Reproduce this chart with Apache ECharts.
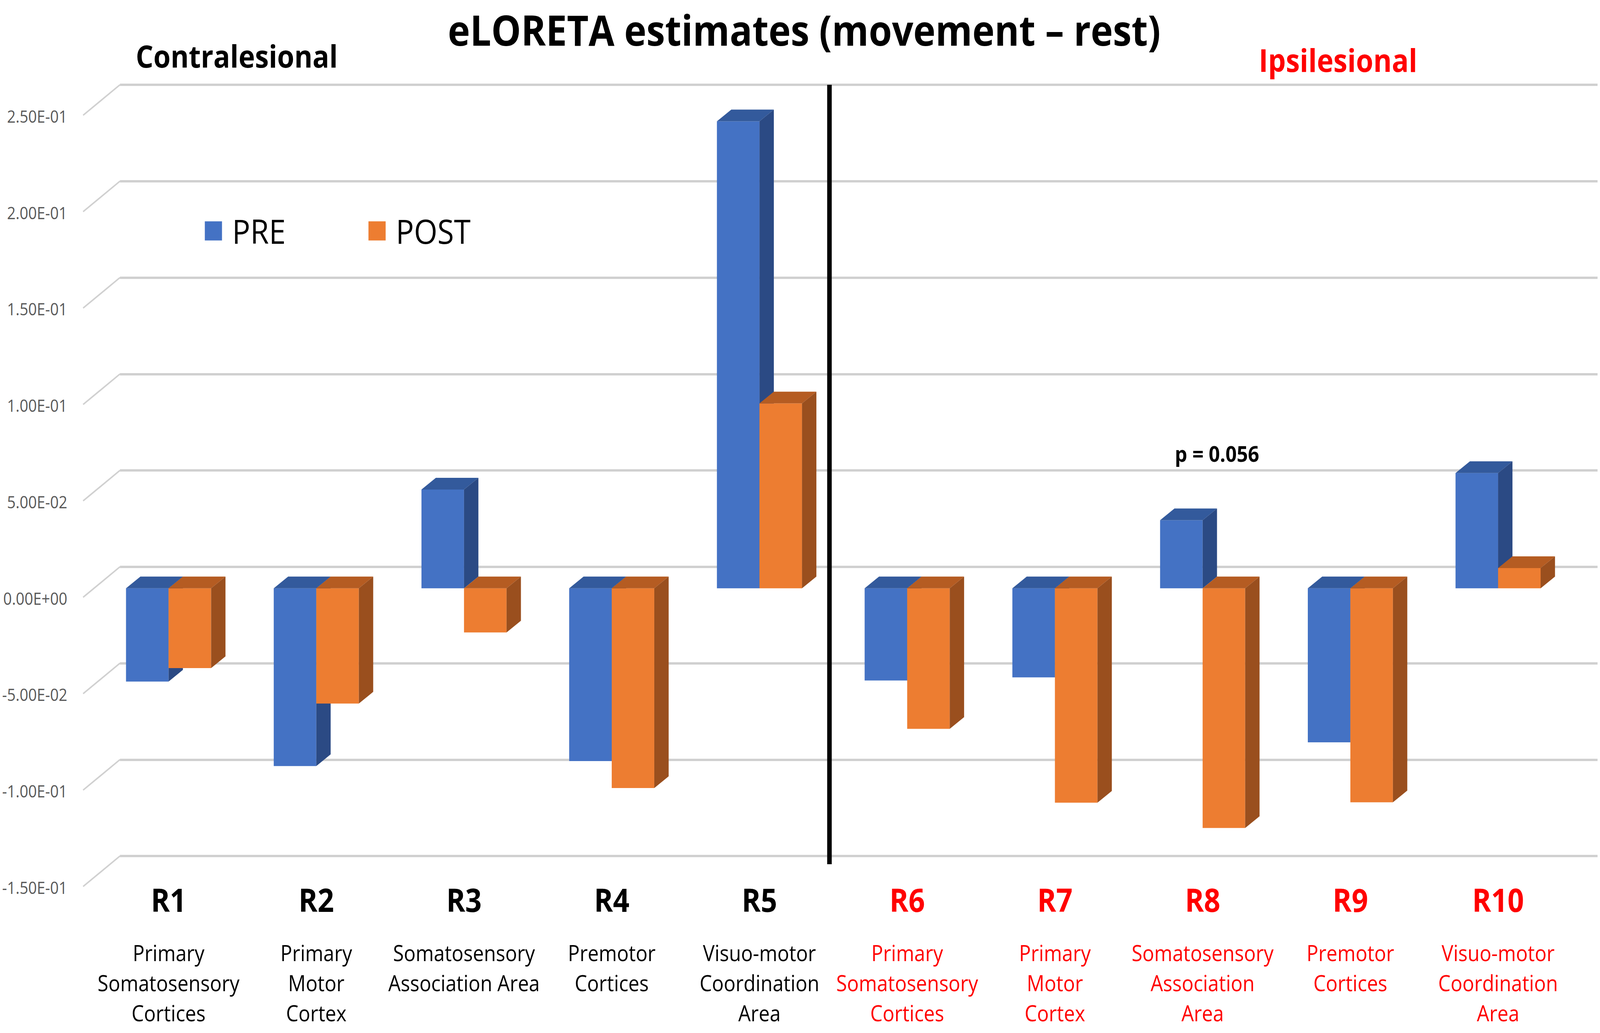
<!DOCTYPE html>
<html>
<head>
<meta charset="utf-8">
<script src="https://cdn.jsdelivr.net/npm/echarts@6/dist/echarts.min.js"></script>
<style>
html,body{margin:0;padding:0;background:#fff;overflow:hidden;width:100%;height:100%;}
#chart{position:absolute;left:0;top:0;width:4562px;height:2644px;transform-origin:0 0;}
</style>
</head>
<body>
<div id="chart"></div>
<script>
// ---- data ----
const categories = ['R1','R2','R3','R4','R5','R6','R7','R8','R9','R10'];
const regionNames = [
  'Primary\nSomatosensory\nCortices',
  'Primary\nMotor\nCortex',
  'Somatosensory\nAssociation Area',
  'Premotor\nCortices',
  'Visuo-motor\nCoordination\nArea',
  'Primary\nSomatosensory\nCortices',
  'Primary\nMotor\nCortex',
  'Somatosensory\nAssociation\nArea',
  'Premotor\nCortices',
  'Visuo-motor\nCoordination\nArea'
];
const seriesNames = ['PRE','POST'];
const preValues  = [-0.0484, -0.0922, 0.0512, -0.0896, 0.2422, -0.0478, -0.0462, 0.0353, -0.0799, 0.0598];
const postValues = [-0.0414, -0.0598, -0.0229, -0.1036, 0.0959, -0.0729, -0.1112, -0.1243, -0.1110, 0.0105];
const yTicks = [-0.15, -0.10, -0.05, 0, 0.05, 0.10, 0.15, 0.20, 0.25];

// ---- fit the 4562 x 2644 design to the actual window ----
const el = document.getElementById('chart');
const W = window.innerWidth || document.documentElement.clientWidth || 4562;
const H = window.innerHeight || document.documentElement.clientHeight || 2644;
el.style.transform = 'scale(' + (W / 4562) + ',' + (H / 2644) + ')';

// ---- style ----
const FONT = 'Open Sans';
const RED = '#FF0000';
const BAR_FRAC = 0.288;
const DX = 41, DY = 30;
const WALL_DX = 105, WALL_DY = 78;
const GRID_GREY = '#D0D0D0';
const blueFaces = {front:'#4472C4', top:'#335A9C', side:'#2B4A84'};
const orangeFaces = {front:'#ED7D31', top:'#B55C22', side:'#9A4F1E'};

function fmtSci(v){
  v = Math.round(v*1e6)/1e6;
  const s = v.toExponential(2);
  const parts = s.split('e');
  let exp = parseInt(parts[1],10);
  const sign = exp < 0 ? '-' : '+';
  exp = Math.abs(exp);
  return parts[0] + 'E' + sign + (exp < 10 ? '0' + exp : '' + exp);
}

function makeRender(side, faces){
  return function(params, api){
    const c = api.value(0), v = api.value(1);
    const p0 = api.coord([c, 0]);
    const p1 = api.coord([c, v]);
    const band = api.size([1, 0])[0];
    const bw = band * BAR_FRAC;
    const x0 = side === 0 ? p0[0] - bw : p0[0];
    const x1 = x0 + bw;
    const yTop = Math.min(p0[1], p1[1]);
    const yBot = Math.max(p0[1], p1[1]);
    return {
      type: 'group',
      children: [
        {type:'rect', shape:{x:x0, y:yTop, width:bw, height:yBot-yTop}, style:{fill:faces.front}},
        {type:'polygon', shape:{points:[[x0,yTop],[x1,yTop],[x1+DX,yTop-DY],[x0+DX,yTop-DY]]}, style:{fill:faces.top}},
        {type:'polygon', shape:{points:[[x1,yTop],[x1+DX,yTop-DY],[x1+DX,yBot-DY],[x1,yBot]]}, style:{fill:faces.side}}
      ]
    };
  };
}

function wallRender(params, api){
  const p = api.coord([0, api.value(1)]);
  return {
    type:'line',
    shape:{x1:p[0]-WALL_DX, y1:p[1]+WALL_DY, x2:p[0], y2:p[1]},
    style:{stroke:GRID_GREY, lineWidth:4}
  };
}

function catLabel(value, idx){
  const k = idx >= 5 ? 'R' : 'K';
  const lines = regionNames[idx].split('\n').map(l => '{d' + k + '|' + l + '}');
  return '{r' + k + '|' + value + '}\n' + lines.join('\n');
}

const chart = echarts.init(el, null, {renderer:'svg', width:4562, height:2644});
chart.setOption({
  backgroundColor:'#ffffff',
  animation:false,
  title:[
    {text:'eLORETA estimates (movement \u2013 rest)', left:2293, top:22, textAlign:'center', padding:0,
     textStyle:{fontSize:107, fontWeight:'bold', fontFamily:FONT, color:'#000'}},
    {text:'Contralesional', left:675, top:103, textAlign:'center', padding:0,
     textStyle:{fontSize:79, fontWeight:'bold', fontFamily:FONT, color:'#000'}},
    {text:'Ipsilesional', left:3815, top:113, textAlign:'center', padding:0,
     textStyle:{fontSize:80, fontWeight:'bold', fontFamily:FONT, color:RED}},
    {text:'p = 0.056', left:3470, top:1132, textAlign:'center', padding:0,
     textStyle:{fontSize:56, fontWeight:'bold', fontFamily:FONT, color:'#000'}}
  ],
  legend:{
    data:seriesNames, left:579, top:543, icon:'rect', itemWidth:49, itemHeight:49, itemGap:236,
    textStyle:{fontSize:86, fontFamily:FONT, color:'#000', padding:[0,0,0,24]}
  },
  grid:[
    {left:342, right:7, top:217, height:1974},
    {left:270, right:80, top:272, height:1974},
    {left:237, right:80, top:297, height:1974}
  ],
  xAxis:[
    {gridIndex:0, type:'value', min:0, max:1, show:false},
    {gridIndex:1, type:'category', data:categories,
     axisLine:{show:false}, axisTick:{show:false}, splitLine:{show:false},
     axisLabel:{interval:0, margin:-41, formatter:catLabel,
       rich:{
         rK:{fontSize:82, fontWeight:'bold', fontFamily:FONT, color:'#000', lineHeight:195, align:'center'},
         rR:{fontSize:82, fontWeight:'bold', fontFamily:FONT, color:RED, lineHeight:195, align:'center'},
         dK:{fontSize:56, fontFamily:FONT, color:'#000', lineHeight:77, align:'center'},
         dR:{fontSize:56, fontFamily:FONT, color:RED, lineHeight:77, align:'center'}
       }}},
    {gridIndex:2, type:'value', min:0, max:1, show:false}
  ],
  yAxis:[
    {gridIndex:0, type:'value', min:-0.15, max:0.25, interval:0.05,
     axisLine:{show:false}, axisTick:{show:false}, axisLabel:{show:false},
     splitLine:{show:true, lineStyle:{color:GRID_GREY, width:6}}},
    {gridIndex:1, type:'value', min:-0.15, max:0.25, interval:0.05, show:false},
    {gridIndex:2, type:'value', min:-0.15, max:0.25, interval:0.05,
     axisLine:{show:false}, axisTick:{show:false}, splitLine:{show:false},
     axisLabel:{margin:45, formatter:fmtSci, color:'#595959', fontSize:43, fontFamily:FONT}}
  ],
  graphic:[
    {type:'line', shape:{x1:2365, y1:217, x2:2365, y2:2212}, style:{stroke:'#000', lineWidth:13}, z:10}
  ],
  series:[
    {type:'custom', name:'wall', xAxisIndex:0, yAxisIndex:0, silent:true,
     data:yTicks.map(v => [0, v]), renderItem:wallRender, clip:false},
    {type:'custom', name:seriesNames[0], xAxisIndex:1, yAxisIndex:1, clip:false,
     itemStyle:{color:blueFaces.front},
     data:preValues.map((v,i) => [i, v]), renderItem:makeRender(0, blueFaces)},
    {type:'custom', name:seriesNames[1], xAxisIndex:1, yAxisIndex:1, clip:false,
     itemStyle:{color:orangeFaces.front},
     data:postValues.map((v,i) => [i, v]), renderItem:makeRender(1, orangeFaces)}
  ]
});
</script>
</body>
</html>
